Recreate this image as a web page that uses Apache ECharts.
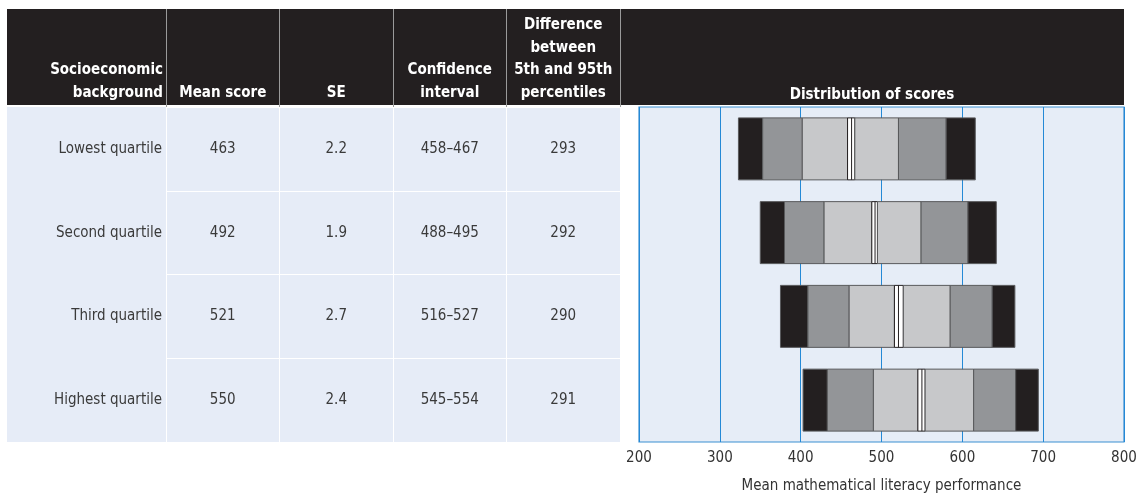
<!DOCTYPE html>
<html><head><meta charset="utf-8">
<script src="https://cdn.jsdelivr.net/npm/echarts@6/dist/echarts.min.js"></script>
<style>html,body{margin:0;padding:0;background:#fff}#c{width:1138px;height:495px}</style>
</head><body><div id="c"></div>
<script>
// ---- data ----
const groups = ['Lowest quartile', 'Second quartile', 'Third quartile', 'Highest quartile'];
const columnHeaders = ['Mean score', 'SE', 'Confidence\ninterval', 'Difference\nbetween\n5th and 95th\npercentiles'];
const meanScore = [463, 492, 521, 550];
const seValues = ['2.2', '1.9', '2.7', '2.4'];
const ciText = ['458–467', '488–495', '516–527', '545–554'];
const diff5to95 = [293, 292, 290, 291];
const ciLow = [458, 488, 516, 545];
const ciHigh = [467, 495, 527, 554];
const p5 = [323, 350, 375, 403];
const p10 = [353, 380, 409, 433];
const p25 = [402, 429, 460, 490];
const p75 = [521, 549, 585, 614];
const p90 = [580, 607, 637, 666];
const p95 = [616, 642, 665, 694];
const axisMin = 200, axisMax = 800, axisStep = 100;

// ---- style ----
const FONT = '"DejaVu Sans Condensed","Liberation Sans Narrow",sans-serif';
const DARK = '#231f20', MID = '#939598', LIGHT = '#c7c8ca';
const CELL_BG = '#e6ecf7';
const TXT = '#3a3a3a';
const FS = 15;

const tableRows = [];
groups.forEach((g, r) => {
  const cols = [String(meanScore[r]), seValues[r], ciText[r], String(diff5to95[r])];
  cols.forEach((t, c) => tableRows.push([c, r, t]));
});
const boxData = groups.map((g, r) => [r, p5[r], p10[r], p25[r], ciLow[r], meanScore[r], ciHigh[r], p75[r], p90[r], p95[r]]);

const chart = echarts.init(document.getElementById('c'), null, {renderer: 'canvas'});
const option = {
  animation: false,
  backgroundColor: '#fff',
  textStyle: {fontFamily: FONT},
  graphic: [
    {type: 'rect', z: -10, shape: {x: 7, y: 9, width: 1117, height: 96}, style: {fill: DARK}},
    {type: 'rect', z: -10, shape: {x: 7, y: 107, width: 159, height: 335}, style: {fill: CELL_BG}},
    {type: 'text', z: 10, x: 163, y: 104, style: {text: 'Socioeconomic\nbackground', fill: '#fff', font: 'bold ' + FS + 'px ' + FONT, lineHeight: 22.5, align: 'right', verticalAlign: 'bottom'}},
    {type: 'text', z: 10, x: 872, y: 103, style: {text: 'Distribution of scores', fill: '#fff', font: 'bold ' + FS + 'px ' + FONT, align: 'center', verticalAlign: 'bottom'}}
  ],
  grid: [
    {left: 166, width: 454, top: 107, bottom: 53, show: true, backgroundColor: CELL_BG, borderWidth: 0, outerBoundsMode: 'none', containLabel: false},
    {left: 639, right: 14, top: 107, bottom: 53, show: true, backgroundColor: '#e6edf7', borderColor: '#3a8fd2', borderWidth: 1.2, outerBoundsMode: 'none', containLabel: false}
  ],
  xAxis: [
    {gridIndex: 0, type: 'category', data: columnHeaders, position: 'top',
     axisLine: {show: false},
     axisTick: {show: true, length: 98, lineStyle: {color: '#9a9a9a', width: 1}},
     axisLabel: {color: '#fff', fontWeight: 'bold', fontSize: FS, lineHeight: 22.5, margin: 3, fontFamily: FONT, interval: 0},
     splitLine: {show: true, lineStyle: {color: '#ffffff', width: 1}}},
    {gridIndex: 1, type: 'value', min: axisMin, max: axisMax, interval: axisStep,
     axisLine: {show: false}, axisTick: {show: false},
     axisLabel: {color: '#333', fontSize: FS, margin: 9, fontFamily: FONT},
     splitLine: {show: true, lineStyle: {color: '#2489d6', width: 1}},
     name: 'Mean mathematical literacy performance', nameLocation: 'middle', nameGap: 37,
     nameTextStyle: {color: '#333', fontSize: FS, fontFamily: FONT}}
  ],
  yAxis: [
    {gridIndex: 0, type: 'category', data: groups, inverse: true,
     axisLine: {show: false}, axisTick: {show: false},
     axisLabel: {color: TXT, fontSize: FS, margin: 4, fontFamily: FONT},
     splitLine: {show: true, lineStyle: {color: '#ffffff', width: 1}}},
    {gridIndex: 1, type: 'category', data: groups, inverse: true,
     axisLine: {show: false}, axisTick: {show: false}, axisLabel: {show: false}, splitLine: {show: false}}
  ],
  series: [
    {type: 'custom', xAxisIndex: 0, yAxisIndex: 0, data: tableRows, encode: {x: 0, y: 1},
     renderItem: function (params, api) {
       const p = api.coord([api.value(0), api.value(1)]);
       return {type: 'text', x: p[0], y: p[1],
         style: {text: tableRows[params.dataIndex][2], fill: TXT, font: FS + 'px ' + FONT, align: 'center', verticalAlign: 'middle'}};
     }},
    {type: 'custom', xAxisIndex: 1, yAxisIndex: 1, data: boxData,
     encode: {x: [1, 2, 3, 4, 5, 6, 7, 8, 9], y: 0},
     renderItem: function (params, api) {
       const r = api.value(0);
       const vals = [1, 2, 3, 4, 5, 6, 7, 8, 9].map(i => api.value(i));
       const xs = vals.map(v => api.coord([v, r])[0]);
       const cy = api.coord([vals[0], r])[1];
       const h = api.size([0, 1])[1] * 0.74;
       const y0 = cy - h / 2;
       const segs = [[0, 1, DARK], [1, 2, MID], [2, 3, LIGHT], [3, 5, '#ffffff'], [5, 6, LIGHT], [6, 7, MID], [7, 8, DARK]];
       const children = segs.map(s => ({
         type: 'rect',
         shape: {x: xs[s[0]], y: y0, width: xs[s[1]] - xs[s[0]], height: h},
         style: {fill: s[2], stroke: s[2] === '#ffffff' ? DARK : '#58595b', lineWidth: 1}
       }));
       children.push({type: 'line', shape: {x1: xs[4], y1: y0, x2: xs[4], y2: y0 + h}, style: {stroke: DARK, lineWidth: 1}});
       return {type: 'group', children: children};
     }}
  ]
};
chart.setOption(option);
</script>
</body></html>
